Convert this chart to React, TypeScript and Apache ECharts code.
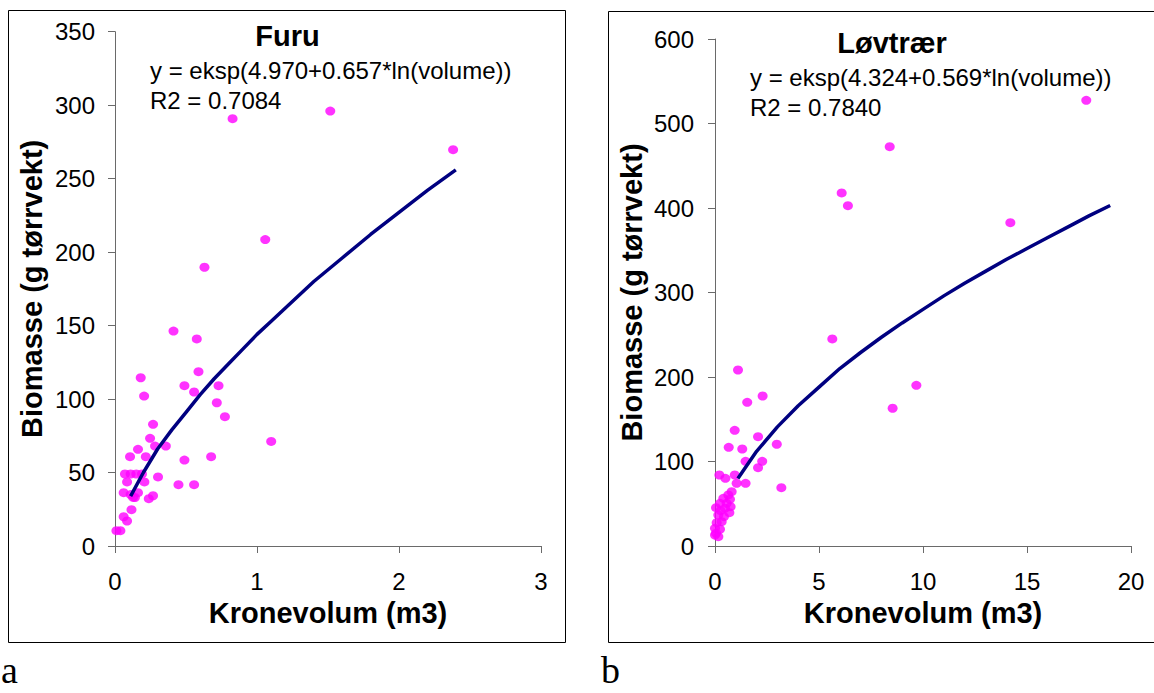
import React, { useEffect, useRef } from "react";
import * as echarts from "echarts";

// ---- Furu (a) ----
const furuX = [0.828, 1.516, 2.381, 1.058, 0.63, 0.412, 0.576, 0.181, 0.588, 0.489, 0.729, 0.557, 0.205,
  0.717, 0.774, 0.268, 0.247, 0.282, 0.358, 0.162, 0.106, 0.217, 0.677, 1.1, 0.489,
  0.07, 0.11, 0.15, 0.19, 0.085, 0.207, 0.303, 0.447, 0.557, 0.061, 0.162, 0.127, 0.11, 0.14,
  0.238, 0.268, 0.116, 0.061, 0.085, 0.01, 0.038];
const furuY = [290.8, 296, 269.7, 208.5, 189.7, 146.3, 140.9, 114.5, 118.6, 109.1, 109.1, 104.8, 102,
  97.5, 88, 82.8, 73.3, 68, 68, 65.8, 60.8, 60.8, 60.8, 71.2, 58.5,
  49, 49, 49, 49, 43.6, 43.6, 47, 41.7, 41.7, 36.3, 36.3, 33.1, 35, 33,
  32.2, 34.2, 24.7, 19.9, 17, 10.4, 10.4];
const furuFitX = [0.11, 0.2, 0.3, 0.4, 0.5, 0.6, 0.7, 0.8, 0.9, 1.0, 1.1, 1.2, 1.4, 1.6, 1.8, 2.0, 2.2, 2.4];
const furuFitY = [34, 50, 66, 79, 91, 103, 114, 124, 134, 144, 153, 162, 180, 196, 212, 227, 242, 256];

// ---- Løvtrær (b) ----
const lovX = [17.85, 8.4, 6.09, 6.39, 14.2, 5.64, 1.106, 9.68, 1.55, 2.29, 8.54,
  0.947, 2.07, 2.97, 0.66, 1.31, 1.47, 2.27, 2.07, 3.19, 0.21, 0.5, 0.95, 1.47, 1.04,
  0.05, 0.8, 0.64, 0.4, 0.72, 0.24, 0.56, 0.75, 0.48, 0.27, 0.69, 0.16, 0.43, 0.08, 0.32,
  0.0, 0.24, 0.05, 0.16, 0.0];
const lovY = [527.4, 472.6, 417.8, 402.7, 382.6, 245, 208.3, 190.2, 170, 177.5, 163,
  136.9, 129.4, 120.4, 116.8, 114.8, 100.2, 100.2, 92.7, 69, 84, 80.1, 84, 74.2, 74.2,
  45.3, 64.3, 60.4, 56.4, 55.3, 50.5, 50.5, 46.5, 44.6, 41.8, 39.4, 36.7, 34.7, 27.6, 28.8,
  20.9, 19.8, 15, 11, 13];
const lovFitX = [1.1, 2, 3, 4, 5, 6, 7, 8, 9, 10, 11, 12, 13, 14, 15, 16, 17, 18, 19];
const lovFitY = [80, 112, 141, 166, 188, 210, 229, 247, 264, 280, 296, 311, 325, 339, 352, 365, 378, 391, 403];

const furuXTicks = { min: 0, max: 3, interval: 1 };
const furuYTicks = { min: 0, max: 350, interval: 50 };
const lovXTicks = { min: 0, max: 20, interval: 5 };
const lovYTicks = { min: 0, max: 600, interval: 100 };

const titles = ["Furu", "Løvtrær"];
const equations = ["y = eksp(4.970+0.657*ln(volume))", "y = eksp(4.324+0.569*ln(volume))"];
const r2Texts = ["R2 = 0.7084", "R2 = 0.7840"];
const panelLetters = ["a", "b"];
const xName = "Kronevolum (m3)";
const yName = "Biomasse (g tørrvekt)";

const FONT = "'Liberation Sans', Arial, Helvetica, sans-serif";
const SERIF = "'Liberation Serif', 'Times New Roman', serif";
const AXIS_COLOR = "#6a6a6a";

const zip = (xs: number[], ys: number[]) => xs.map((x, i) => [x, ys[i]]);

function axisBase(extra: any) {
  return {
    type: "value",
    axisLine: { show: true, lineStyle: { color: AXIS_COLOR, width: 1 } },
    axisTick: { show: true, length: 7, lineStyle: { color: AXIS_COLOR, width: 1 } },
    splitLine: { show: false },
    axisLabel: { color: "#000", fontSize: 24, fontFamily: FONT },
    nameTextStyle: { color: "#000", fontSize: 29, fontWeight: "bold", fontFamily: FONT },
    nameLocation: "middle",
    ...extra,
  };
}

function txt(text: string, x: number, y: number, size: number, bold: boolean, align: string, family = FONT, lineHeight?: number) {
  const style: any = {
    text,
    fill: "#000",
    font: `${bold ? "bold " : ""}${size}px ${family}`,
    fontSize: size,
    fontWeight: bold ? "bold" : "normal",
    fontFamily: family,
    textAlign: align,
    align,
    textVerticalAlign: "middle",
    verticalAlign: "middle",
  };
  if (lineHeight) style.lineHeight = lineHeight;
  return { type: "text", x, y, silent: true, style };
}

export default function App() {
  const ref = useRef<HTMLDivElement>(null);
  useEffect(() => {
    const chart = echarts.init(ref.current!, null, { renderer: "svg" });
    const option: any = {
      animation: false,
      backgroundColor: "#fff",
      grid: [
        { left: 115, top: 31.7, width: 426, height: 514.3 },
        { left: 715, top: 39, width: 416, height: 507 },
      ],
      xAxis: [
        axisBase({ gridIndex: 0, ...furuXTicks, name: xName, nameGap: 52, axisLabel: { color: "#000", fontSize: 24, fontFamily: FONT, margin: 23 } }),
        axisBase({ gridIndex: 1, ...lovXTicks, name: xName, nameGap: 52, axisLabel: { color: "#000", fontSize: 24, fontFamily: FONT, margin: 23 } }),
      ],
      yAxis: [
        axisBase({ gridIndex: 0, ...furuYTicks, name: yName, nameRotate: 90, nameGap: 69, axisLabel: { color: "#000", fontSize: 24, fontFamily: FONT, margin: 20 } }),
        axisBase({ gridIndex: 1, ...lovYTicks, name: yName, nameRotate: 90, nameGap: 69, axisLabel: { color: "#000", fontSize: 24, fontFamily: FONT, margin: 21 } }),
      ],
      series: [
        {
          type: "scatter", xAxisIndex: 0, yAxisIndex: 0, data: zip(furuX, furuY),
          symbol: "circle", symbolSize: [10, 9], itemStyle: { color: "#ff00ff" }, z: 2,
        },
        {
          type: "line", xAxisIndex: 0, yAxisIndex: 0, data: zip(furuFitX, furuFitY),
          showSymbol: false, symbol: "none", lineStyle: { color: "#000080", width: 3.5 }, z: 3,
        },
        {
          type: "scatter", xAxisIndex: 1, yAxisIndex: 1, data: zip(lovX, lovY),
          symbol: "circle", symbolSize: [10, 9], itemStyle: { color: "#ff00ff" }, z: 2,
        },
        {
          type: "line", xAxisIndex: 1, yAxisIndex: 1, data: zip(lovFitX, lovFitY),
          showSymbol: false, symbol: "none", lineStyle: { color: "#000080", width: 3.5 }, z: 3,
        },
      ],
      graphic: [
        { type: "rect", shape: { x: 8.5, y: 10.5, width: 557, height: 632 }, style: { fill: "none", stroke: "#000", lineWidth: 1 }, silent: true },
        { type: "rect", shape: { x: 608.5, y: 11.5, width: 600, height: 631 }, style: { fill: "none", stroke: "#000", lineWidth: 1 }, silent: true },
        txt(titles[0], 287.5, 35.5, 29, true, "center"),
        txt(equations[0], 150, 70.5, 24, false, "left"),
        txt(r2Texts[0], 150, 100.5, 24, false, "left"),
        txt(titles[1], 892, 42.8, 29, true, "center"),
        txt(equations[1], 750, 77.8, 24, false, "left"),
        txt(r2Texts[1], 750, 107.8, 24, false, "left"),
        txt(panelLetters[0], 1, 670, 38, false, "left", SERIF),
        txt(panelLetters[1], 601, 670, 38, false, "left", SERIF),
      ],
    };
    chart.setOption(option);
    return () => chart.dispose();
  }, []);
  return (
    <div
      ref={ref}
      style={{ position: "absolute", left: 0, top: 0, width: 1154, height: 693, background: "#fff" }}
    />
  );
}
